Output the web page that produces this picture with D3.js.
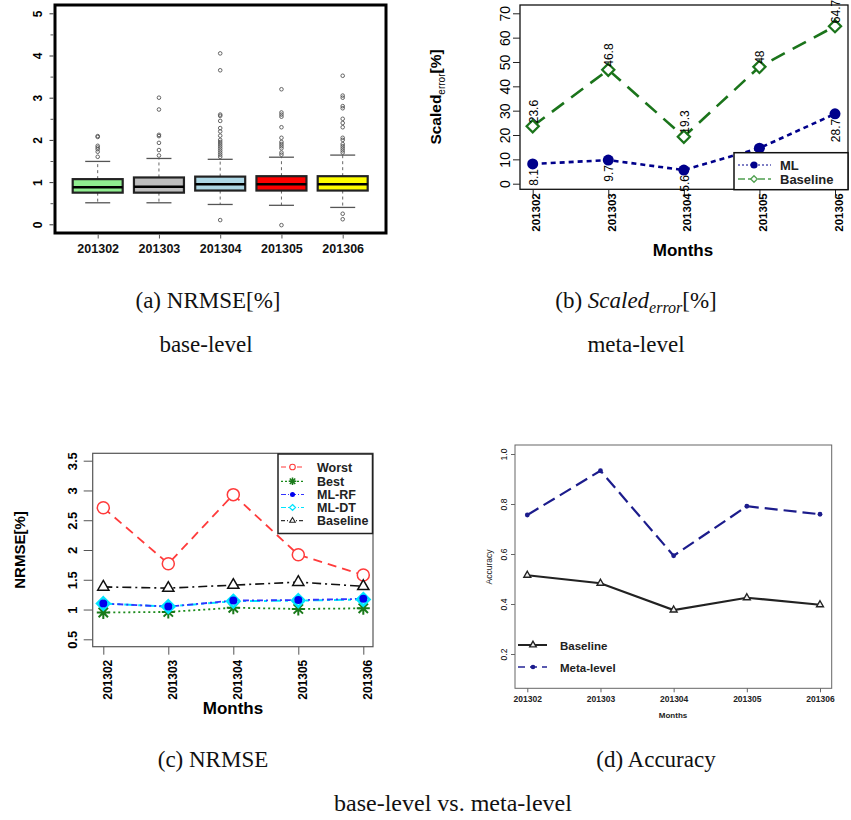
<!DOCTYPE html>
<html><head><meta charset="utf-8">
<script src="https://cdn.jsdelivr.net/npm/d3@7"></script>
<style>body{margin:0;background:#fff} svg{display:block}</style>
</head><body><svg id="fig" width="851" height="820"></svg>
<script>
// ---------------- DATA ----------------
const months = ["201302", "201303", "201304", "201305", "201306"];

// (a) box plot statistics of base-level NRMSE[%]
const boxLowWhisker  = [0.51, 0.51, 0.47, 0.45, 0.40];
const boxQ1          = [0.75, 0.75, 0.80, 0.80, 0.80];
const boxMedian      = [0.88, 0.89, 0.95, 0.95, 0.95];
const boxQ3          = [1.07, 1.11, 1.13, 1.14, 1.14];
const boxHighWhisker = [1.49, 1.56, 1.54, 1.59, 1.64];
const boxOutliers = [
  [1.60, 1.72, 1.78, 1.82, 1.86, 2.07, 2.09],
  [1.63, 1.76, 1.93, 2.09, 2.12, 2.72, 3.00],
  [0.10, 1.60, 1.65, 1.70, 1.75, 1.80, 1.85, 1.90, 1.95, 2.00, 2.10, 2.20, 2.28, 2.45, 2.57, 2.60, 3.65, 4.05],
  [-0.02, 1.65, 1.70, 1.80, 1.85, 1.90, 1.95, 2.05, 2.30, 2.55, 2.60, 2.65, 3.20],
  [0.12, 0.25, 1.70, 1.75, 1.80, 1.85, 1.90, 2.00, 2.05, 2.30, 2.40, 2.50, 2.75, 2.80, 3.00, 3.05, 3.52]
];
const boxColors = ["#90EE90", "#BEBEBE", "#ADD8E6", "#FF0000", "#FFFF00"];

// (b) Scaled_error[%] meta-level
const scaledML       = [8.1, 9.7, 5.6, 14.6, 28.7];
const scaledBaseline = [23.6, 46.8, 19.3, 48, 64.7];

// (c) NRMSE base-level vs meta-level
const nrmseWorst    = [2.71, 1.77, 2.93, 1.92, 1.58];
const nrmseBest     = [0.95, 0.96, 1.03, 1.01, 1.02];
const nrmseMLRF     = [1.10, 1.05, 1.15, 1.16, 1.18];
const nrmseMLDT     = [1.10, 1.05, 1.14, 1.15, 1.17];
const nrmseBaseline = [1.38, 1.36, 1.41, 1.46, 1.39];

// (d) Accuracy
const accBaseline = [0.515, 0.483, 0.376, 0.425, 0.397];
const accMeta     = [0.756, 0.933, 0.593, 0.791, 0.759];

// tick values
const ticksA = [0, 1, 2, 3, 4, 5];
const minorTicksA = [0.5, 1.5, 2.5, 3.5, 4.5];
const ticksB = [0, 10, 20, 30, 40, 50, 60, 70];
const ticksC = [0.5, 1, 1.5, 2, 2.5, 3, 3.5];
const ticksD = [0.2, 0.4, 0.6, 0.8, 1.0];

// ---------------- DRAWING ----------------
const svg = d3.select("#fig");
const SANS = "'Liberation Sans', Arial, Helvetica, sans-serif";
const SERIF = "'Liberation Serif', 'Times New Roman', serif";

function styleRotatedYAxis(g, off, size, weight, color) {
  g.select(".domain").remove();
  g.selectAll(".tick line").attr("stroke", color || "#000");
  g.selectAll(".tick text")
    .attr("x", null).attr("dy", null)
    .attr("transform", `translate(${-off},0) rotate(-90)`)
    .attr("text-anchor", "middle")
    .attr("fill", "#000")
    .style("font-family", SANS).style("font-size", size + "px").style("font-weight", weight);
}
function styleRotatedXAxis(g, top, dx, size, color) {
  g.select(".domain").remove();
  g.selectAll(".tick line").attr("stroke", color || "#000");
  g.selectAll(".tick text")
    .attr("y", null).attr("dy", null)
    .attr("transform", `translate(${dx},${top}) rotate(-90)`)
    .attr("text-anchor", "end")
    .attr("fill", "#000")
    .style("font-family", SANS).style("font-size", size + "px").style("font-weight", "bold");
}
const lineGen = (x, y) => d3.line().x((d, i) => x(months[i])).y(d => y(d));

function asteriskPath(s) {
  const a = s * 0.72;
  return `M${-s},0L${s},0M0,${-s}L0,${s}M${-a},${-a}L${a},${a}M${-a},${a}L${a},${-a}`;
}

// ===== Panel (a) =====
{
  const x = d3.scalePoint().domain(months).range([97.7, 342.7]);
  const y = d3.scaleLinear().domain([0, 5]).range([224.3, 13.3]);
  const g = svg.append("g");
  const boxW = 50, capW = 25;
  const data = months.map((m, i) => ({
    m, lo: boxLowWhisker[i], q1: boxQ1[i], med: boxMedian[i], q3: boxQ3[i], hi: boxHighWhisker[i],
    out: boxOutliers[i], col: boxColors[i]
  }));
  const bg = g.selectAll("g.box").data(data).join("g").attr("class", "box");
  bg.append("line").attr("x1", d => x(d.m)).attr("x2", d => x(d.m))
    .attr("y1", d => y(d.q3)).attr("y2", d => y(d.hi))
    .attr("stroke", "#666").attr("stroke-width", 1).attr("stroke-dasharray", "3,3");
  bg.append("line").attr("x1", d => x(d.m)).attr("x2", d => x(d.m))
    .attr("y1", d => y(d.q1)).attr("y2", d => y(d.lo))
    .attr("stroke", "#666").attr("stroke-width", 1).attr("stroke-dasharray", "3,3");
  bg.append("line").attr("x1", d => x(d.m) - capW / 2).attr("x2", d => x(d.m) + capW / 2)
    .attr("y1", d => y(d.hi)).attr("y2", d => y(d.hi)).attr("stroke", "#555").attr("stroke-width", 1.3);
  bg.append("line").attr("x1", d => x(d.m) - capW / 2).attr("x2", d => x(d.m) + capW / 2)
    .attr("y1", d => y(d.lo)).attr("y2", d => y(d.lo)).attr("stroke", "#555").attr("stroke-width", 1.3);
  bg.append("rect").attr("x", d => x(d.m) - boxW / 2).attr("width", boxW)
    .attr("y", d => y(d.q3)).attr("height", d => y(d.q1) - y(d.q3))
    .attr("fill", d => d.col).attr("stroke", "#222").attr("stroke-width", 2.2);
  bg.append("line").attr("x1", d => x(d.m) - boxW / 2).attr("x2", d => x(d.m) + boxW / 2)
    .attr("y1", d => y(d.med)).attr("y2", d => y(d.med)).attr("stroke", "#000").attr("stroke-width", 2.5);
  bg.selectAll("circle").data(d => d.out.map(v => ({ m: d.m, v }))).join("circle")
    .attr("cx", d => x(d.m)).attr("cy", d => y(d.v)).attr("r", 1.8)
    .attr("fill", "none").attr("stroke", "#555").attr("stroke-width", 0.9);
  g.append("rect").attr("x", 55).attr("y", 5).attr("width", 331).attr("height", 228)
    .attr("fill", "none").attr("stroke", "#000").attr("stroke-width", 3);
  const ya = g.append("g").attr("transform", "translate(53.5,0)")
    .call(d3.axisLeft(y).tickValues(ticksA).tickSize(4).tickFormat(d3.format("d")));
  styleRotatedYAxis(ya, 12, 12, "bold", "#333");
  const ym = g.append("g").attr("transform", "translate(53.5,0)")
    .call(d3.axisLeft(y).tickValues(minorTicksA).tickSize(3).tickFormat(""));
  ym.select(".domain").remove(); ym.selectAll("line").attr("stroke", "#555");
  const xa = g.append("g").attr("transform", "translate(0,234.5)")
    .call(d3.axisBottom(x).tickSize(4).tickPadding(6));
  xa.select(".domain").remove();
  xa.selectAll(".tick line").attr("stroke", "#555");
  xa.selectAll(".tick text").attr("fill", "#111")
    .style("font-family", SANS).style("font-size", "12.5px").style("font-weight", "bold");
}

// ===== Panel (b) =====
{
  const x = d3.scalePoint().domain(months).range([532.7, 835]);
  const y = d3.scaleLinear().domain([0, 70]).range([183.7, 13.3]);
  const g = svg.append("g");
  const green = "#1b741b", navy = "#00008B";
  g.append("rect").attr("x", 520).attr("y", 5).attr("width", 328).attr("height", 184.3)
    .attr("fill", "none").attr("stroke", "#111").attr("stroke-width", 1.3);
  const ya = g.append("g").attr("transform", "translate(520,0)")
    .call(d3.axisLeft(y).tickValues(ticksB).tickSize(7).tickFormat(d3.format("d")));
  styleRotatedYAxis(ya, 10, 14, "normal", "#222");
  const xa = g.append("g").attr("transform", "translate(0,189.3)")
    .call(d3.axisBottom(x).tickSize(6));
  styleRotatedXAxis(xa, 4, 7, 11.5, "#222");

  g.append("path").datum(scaledBaseline).attr("d", lineGen(x, y))
    .attr("fill", "none").attr("stroke", green).attr("stroke-width", 2.6).attr("stroke-dasharray", "15,9");
  g.append("path").datum(scaledML).attr("d", lineGen(x, y))
    .attr("fill", "none").attr("stroke", navy).attr("stroke-width", 2.6).attr("stroke-dasharray", "5,4");
  g.selectAll("path.dia").data(scaledBaseline).join("path").attr("class", "dia")
    .attr("transform", (d, i) => `translate(${x(months[i])},${y(d)})`)
    .attr("d", d3.symbol(d3.symbolDiamond2, 95)).attr("fill", "#fff").attr("stroke", green).attr("stroke-width", 2.2);
  g.selectAll("circle.ml").data(scaledML).join("circle").attr("class", "ml")
    .attr("cx", (d, i) => x(months[i])).attr("cy", d => y(d)).attr("r", 5.5).attr("fill", navy);
  const fmt = v => String(v);
  g.selectAll("text.bl").data(scaledBaseline).join("text").attr("class", "bl")
    .attr("transform", (d, i) => `translate(${x(months[i]) + 5},${y(d) - 3}) rotate(-90)`)
    .attr("text-anchor", "start").style("font-family", SANS).style("font-size", "12px").text(fmt);
  g.selectAll("text.mll").data(scaledML).join("text").attr("class", "mll")
    .attr("transform", (d, i) => `translate(${x(months[i]) + 5},${y(d) + 5}) rotate(-90)`)
    .attr("text-anchor", "end").style("font-family", SANS).style("font-size", "12px").text(fmt);
  const lg = g.append("g");
  lg.append("rect").attr("x", 734).attr("y", 152.7).attr("width", 114).attr("height", 37)
    .attr("fill", "#fff").attr("stroke", "#111").attr("stroke-width", 1.5);
  lg.append("line").attr("x1", 738).attr("x2", 771).attr("y1", 165).attr("y2", 165)
    .attr("stroke", navy).attr("stroke-width", 1.2).attr("stroke-dasharray", "2,2");
  lg.append("circle").attr("cx", 754).attr("cy", 165).attr("r", 3.6).attr("fill", navy);
  lg.append("line").attr("x1", 738).attr("x2", 771).attr("y1", 179).attr("y2", 179)
    .attr("stroke", "#4f9f4f").attr("stroke-width", 1.4).attr("stroke-dasharray", "7,3");
  lg.append("path").attr("transform", "translate(754,179)").attr("d", d3.symbol(d3.symbolDiamond2, 28))
    .attr("fill", "#fff").attr("stroke", "#4f9f4f").attr("stroke-width", 1.3);
  lg.append("text").attr("x", 780).attr("y", 169.5).text("ML")
    .style("font-family", SANS).style("font-size", "13px").style("font-weight", "bold").attr("fill", "#222");
  lg.append("text").attr("x", 780).attr("y", 183.5).text("Baseline")
    .style("font-family", SANS).style("font-size", "13px").style("font-weight", "bold").attr("fill", "#222");
  const t = g.append("text").attr("transform", "translate(441,97) rotate(-90)").attr("text-anchor", "middle")
    .style("font-family", SANS).style("font-weight", "bold").style("font-size", "15.5px");
  t.append("tspan").text("Scaled");
  t.append("tspan").attr("dy", 4).style("font-size", "10px").style("font-weight", "normal").text("error");
  t.append("tspan").attr("dy", -4).text("[%]");
  g.append("text").attr("x", 683).attr("y", 256).attr("text-anchor", "middle").text("Months")
    .style("font-family", SANS).style("font-size", "17px").style("font-weight", "bold");
}

// ===== Panel (c) =====
{
  const x = d3.scalePoint().domain(months).range([103.3, 363.3]);
  const y = d3.scaleLinear().domain([0.5, 3.5]).range([639.3, 460.7]);
  const g = svg.append("g");
  g.append("rect").attr("x", 92.7).attr("y", 453.3).attr("width", 280.3).attr("height", 193.4)
    .attr("fill", "none").attr("stroke", "#555").attr("stroke-width", 1.2);
  const ya = g.append("g").attr("transform", "translate(92.7,0)")
    .call(d3.axisLeft(y).tickValues(ticksC).tickSize(9).tickFormat(d => d3.format("")(d)));
  styleRotatedYAxis(ya, 16, 13, "bold", "#555");
  const xa = g.append("g").attr("transform", "translate(0,646.7)")
    .call(d3.axisBottom(x).tickSize(8));
  styleRotatedXAxis(xa, 13, 8, 12, "#555");

  const series = [
    { v: nrmseWorst, col: "#ff3b3b", dash: "9,6", w: 1.8 },
    { v: nrmseBest, col: "#1a8a1a", dash: "2,3", w: 1.8 },
    { v: nrmseBaseline, col: "#111", dash: "9,4,2,4", w: 1.6 },
    { v: nrmseMLDT, col: "#00e5ff", dash: "10,4,3,4", w: 2 },
    { v: nrmseMLRF, col: "#3333ff", dash: "6,3,2,3", w: 1.8 }
  ];
  series.forEach(s => g.append("path").datum(s.v).attr("d", lineGen(x, y))
    .attr("fill", "none").attr("stroke", s.col).attr("stroke-width", s.w).attr("stroke-dasharray", s.dash));
  g.selectAll("circle.w").data(nrmseWorst).join("circle").attr("class", "w")
    .attr("cx", (d, i) => x(months[i])).attr("cy", d => y(d)).attr("r", 6)
    .attr("fill", "#fff").attr("stroke", "#ff3b3b").attr("stroke-width", 1.5);
  g.selectAll("path.b").data(nrmseBest).join("path").attr("class", "b")
    .attr("transform", (d, i) => `translate(${x(months[i])},${y(d)})`)
    .attr("d", asteriskPath(6.5)).attr("fill", "none").attr("stroke", "#1a7a1a").attr("stroke-width", 2);
  g.selectAll("path.t").data(nrmseBaseline).join("path").attr("class", "t")
    .attr("transform", (d, i) => `translate(${x(months[i])},${y(d)})`)
    .attr("d", d3.symbol(d3.symbolTriangle2, 90)).attr("fill", "#fff").attr("stroke", "#111").attr("stroke-width", 1.5);
  g.selectAll("path.dt").data(nrmseMLDT).join("path").attr("class", "dt")
    .attr("transform", (d, i) => `translate(${x(months[i])},${y(d)})`)
    .attr("d", d3.symbol(d3.symbolDiamond2, 100)).attr("fill", "#9ff3ff").attr("stroke", "#00e5ff").attr("stroke-width", 2.5);
  g.selectAll("circle.rf").data(nrmseMLRF).join("circle").attr("class", "rf")
    .attr("cx", (d, i) => x(months[i])).attr("cy", d => y(d)).attr("r", 4).attr("fill", "#0000ee");
  const lg = g.append("g");
  lg.append("rect").attr("x", 278).attr("y", 454).attr("width", 94.5).attr("height", 79.5)
    .attr("fill", "#fff").attr("stroke", "#222").attr("stroke-width", 1.5);
  const names = ["Worst", "Best", "ML-RF", "ML-DT", "Baseline"];
  const ly = [467, 481.3, 494.5, 507.5, 520.7];
  const lcol = ["#ff3b3b", "#1a8a1a", "#3333ff", "#00e5ff", "#333"];
  const ldash = ["5,3", "2,2", "5,2,1,2", "5,2,1,2", "4,2,1,2"];
  names.forEach((n, i) => {
    lg.append("line").attr("x1", 281).attr("x2", 304).attr("y1", ly[i]).attr("y2", ly[i])
      .attr("stroke", lcol[i]).attr("stroke-width", 1.2).attr("stroke-dasharray", ldash[i]);
    lg.append("text").attr("x", 317).attr("y", ly[i] + 4.5).text(n)
      .style("font-family", SANS).style("font-size", "12.5px").style("font-weight", "bold").attr("fill", "#222");
  });
  lg.append("circle").attr("cx", 292.5).attr("cy", ly[0]).attr("r", 2.8).attr("fill", "#fff").attr("stroke", "#ff3b3b").attr("stroke-width", 1.1);
  lg.append("path").attr("transform", `translate(292.5,${ly[1]})`).attr("d", asteriskPath(3.8)).attr("stroke", "#1a7a1a").attr("stroke-width", 1.5);
  lg.append("circle").attr("cx", 292.5).attr("cy", ly[2]).attr("r", 2.5).attr("fill", "#0000ee");
  lg.append("path").attr("transform", `translate(292.5,${ly[3]})`).attr("d", d3.symbol(d3.symbolDiamond2, 22)).attr("fill", "#fff").attr("stroke", "#00e5ff").attr("stroke-width", 1.3);
  lg.append("path").attr("transform", `translate(292.5,${ly[4]})`).attr("d", d3.symbol(d3.symbolTriangle2, 22)).attr("fill", "#fff").attr("stroke", "#222").attr("stroke-width", 1.1);
  g.append("text").attr("transform", "translate(25,550) rotate(-90)").attr("text-anchor", "middle").text("NRMSE[%]")
    .style("font-family", SANS).style("font-size", "15px").style("font-weight", "bold");
  g.append("text").attr("x", 233).attr("y", 714).attr("text-anchor", "middle").text("Months")
    .style("font-family", SANS).style("font-size", "17px").style("font-weight", "bold");
}

// ===== Panel (d) =====
{
  const x = d3.scalePoint().domain(months).range([527.3, 820]);
  const y = d3.scaleLinear().domain([0.2, 1.0]).range([654, 454]);
  const g = svg.append("g");
  g.append("rect").attr("x", 515).attr("y", 445).attr("width", 316.7).attr("height", 243.3)
    .attr("fill", "none").attr("stroke", "#666").attr("stroke-width", 1);
  const ya = g.append("g").attr("transform", "translate(515,0)")
    .call(d3.axisLeft(y).tickValues(ticksD).tickSize(4).tickFormat(d3.format(".1f")));
  styleRotatedYAxis(ya, 8, 8.5, "normal", "#666");
  const xa = g.append("g").attr("transform", "translate(0,688.3)")
    .call(d3.axisBottom(x).tickSize(4).tickPadding(4));
  xa.select(".domain").remove();
  xa.selectAll(".tick line").attr("stroke", "#666");
  xa.selectAll(".tick text").attr("fill", "#222")
    .style("font-family", SANS).style("font-size", "8.5px").style("font-weight", "bold");

  g.append("path").datum(accMeta).attr("d", lineGen(x, y))
    .attr("fill", "none").attr("stroke", "#1c1c8c").attr("stroke-width", 2.2).attr("stroke-dasharray", "13,6");
  g.append("path").datum(accBaseline).attr("d", lineGen(x, y))
    .attr("fill", "none").attr("stroke", "#222").attr("stroke-width", 2.2);
  g.selectAll("circle.m").data(accMeta).join("circle").attr("class", "m")
    .attr("cx", (d, i) => x(months[i])).attr("cy", d => y(d)).attr("r", 2.4).attr("fill", "#1c1c8c");
  g.selectAll("path.t").data(accBaseline).join("path").attr("class", "t")
    .attr("transform", (d, i) => `translate(${x(months[i])},${y(d)})`)
    .attr("d", d3.symbol(d3.symbolTriangle2, 34)).attr("fill", "#eee").attr("stroke", "#222").attr("stroke-width", 1.4);
  g.append("line").attr("x1", 518).attr("x2", 547).attr("y1", 645).attr("y2", 645).attr("stroke", "#222").attr("stroke-width", 2);
  g.append("path").attr("transform", "translate(533,645)").attr("d", d3.symbol(d3.symbolTriangle2, 30))
    .attr("fill", "#eee").attr("stroke", "#222").attr("stroke-width", 1.4);
  g.append("line").attr("x1", 518).attr("x2", 547).attr("y1", 667).attr("y2", 667).attr("stroke", "#5a5ab0")
    .attr("stroke-width", 1.8).attr("stroke-dasharray", "7,5");
  g.append("circle").attr("cx", 533).attr("cy", 667).attr("r", 2.3).attr("fill", "#1c1c8c");
  g.append("text").attr("x", 560).attr("y", 649.5).text("Baseline")
    .style("font-family", SANS).style("font-size", "11.5px").style("font-weight", "bold").attr("fill", "#222");
  g.append("text").attr("x", 560).attr("y", 671.5).text("Meta-level")
    .style("font-family", SANS).style("font-size", "11.5px").style("font-weight", "bold").attr("fill", "#222");
  g.append("text").attr("transform", "translate(492,567) rotate(-90)").attr("text-anchor", "middle").text("Accuracy")
    .style("font-family", SANS).style("font-size", "8.5px").attr("fill", "#222");
  g.append("text").attr("x", 673).attr("y", 718).attr("text-anchor", "middle").text("Months")
    .style("font-family", SANS).style("font-size", "8px").style("font-weight", "bold").attr("fill", "#222");
}

// ===== Captions =====
{
  const cap = (x, y, txt, size) => svg.append("text").attr("x", x).attr("y", y).attr("text-anchor", "middle")
    .style("font-family", SERIF).style("font-size", (size || 23) + "px").attr("fill", "#111").text(txt);
  cap(208, 308, "(a) NRMSE[%]");
  cap(206, 352, "base-level");
  cap(636, 352, "meta-level");
  cap(213, 767, "(c) NRMSE");
  cap(656, 767, "(d) Accuracy");
  cap(453, 811, "base-level vs. meta-level", 24);
  const t = svg.append("text").attr("x", 636).attr("y", 308).attr("text-anchor", "middle")
    .style("font-family", SERIF).style("font-size", "23px").attr("fill", "#111");
  t.append("tspan").text("(b) ");
  t.append("tspan").style("font-style", "italic").text("Scaled");
  t.append("tspan").attr("dy", 5).style("font-style", "italic").style("font-size", "16px").text("error");
  t.append("tspan").attr("dy", -5).text("[%]");
}
</script>
</body></html>
